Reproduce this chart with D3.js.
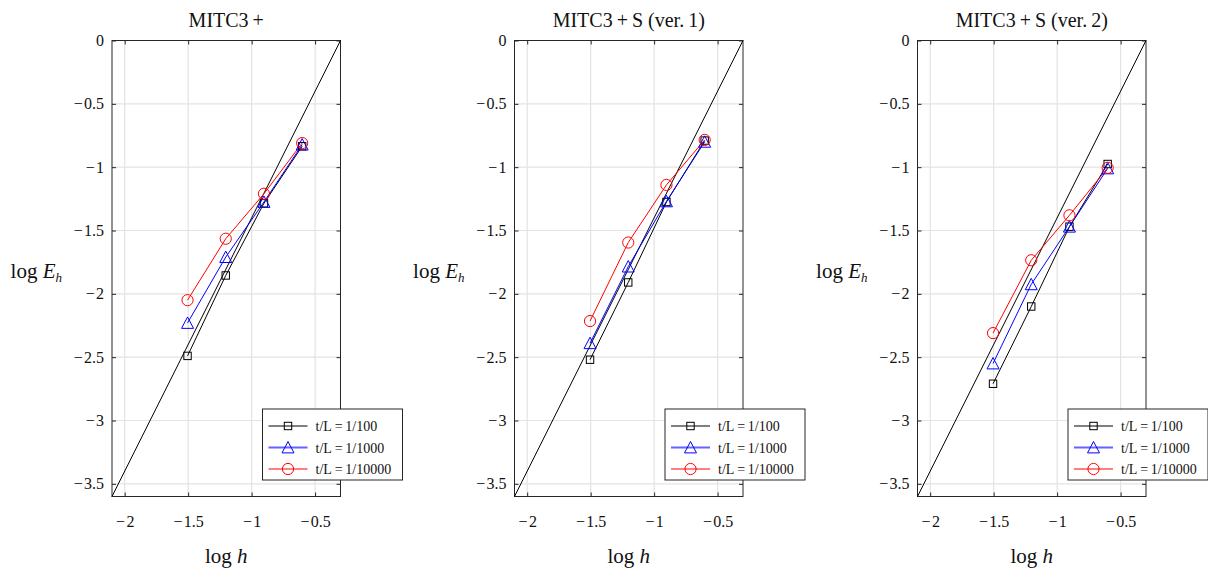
<!DOCTYPE html>
<html><head><meta charset="utf-8">
<script src="https://cdn.jsdelivr.net/npm/d3@7"></script>
<style>body{margin:0;background:#fff}svg{display:block}text{font-family:"Liberation Serif","Times New Roman",serif}</style>
</head><body><svg id="c" width="1208" height="577"></svg>
<script>
const logH = [-1.505, -1.204, -0.903, -0.602];
const titles = ["MITC3\u2009+", "MITC3\u2009+\u2009S (ver.\u20091)", "MITC3\u2009+\u2009S (ver.\u20092)"];
const seriesNames = ["t/L\u2009=\u20091/100", "t/L\u2009=\u20091/1000", "t/L\u2009=\u20091/10000"];
const p1_100 = [-2.49, -1.855, -1.285, -0.835];
const p1_1000 = [-2.23, -1.71, -1.275, -0.822];
const p1_10000 = [-2.05, -1.565, -1.21, -0.81];
const p2_100 = [-2.52, -1.91, -1.275, -0.79];
const p2_1000 = [-2.39, -1.785, -1.27, -0.80];
const p2_10000 = [-2.215, -1.595, -1.14, -0.785];
const p3_100 = [-2.71, -2.10, -1.47, -0.975];
const p3_1000 = [-2.55, -1.925, -1.47, -1.01];
const p3_10000 = [-2.31, -1.735, -1.38, -1.005];
const xTicks = [-2, -1.5, -1, -0.5];
const yTicks = [0, -0.5, -1, -1.5, -2, -2.5, -3, -3.5];
const refLineX = [-2.1, -0.3];   // slope-2 reference line
const refSlope = 2, refIntercept = 0.6;

const panels = [
  {title: titles[0], data: [p1_100, p1_1000, p1_10000], left: 112},
  {title: titles[1], data: [p2_100, p2_1000, p2_10000], left: 514.5},
  {title: titles[2], data: [p3_100, p3_1000, p3_10000], left: 917.5}
];
const colors = ["#000000", "#0000ff", "#ff0000"];
const markers = ["square", "triangle", "circle"];
const W = 228.5, T0 = 40.5, H = 456;
const svg = d3.select("#c");
const fmt = v => v === 0 ? "0" : "\u2212\u200A" + String(Math.abs(v));

function drawMarker(g, type, x, y, color) {
  if (type === "square") {
    g.append("rect").attr("x", x - 3.7).attr("y", y - 3.7).attr("width", 7.4).attr("height", 7.4)
      .attr("fill", "none").attr("stroke", color).attr("stroke-width", 1);
  } else if (type === "triangle") {
    const s = 6;
    g.append("path").attr("d", `M${x},${y - s}L${x + s},${y + s * 0.9}L${x - s},${y + s * 0.9}Z`)
      .attr("fill", "none").attr("stroke", color).attr("stroke-width", 1);
  } else {
    g.append("circle").attr("cx", x).attr("cy", y).attr("r", 5.6)
      .attr("fill", "none").attr("stroke", color).attr("stroke-width", 1);
  }
}

panels.forEach((p, pi) => {
  const x = d3.scaleLinear().domain([-2.1, -0.3]).range([p.left, p.left + W]);
  const y = d3.scaleLinear().domain([-3.6, 0]).range([T0 + H, T0]);
  const g = svg.append("g");
  // grid
  g.selectAll(".gx").data(xTicks).enter().append("line")
    .attr("x1", d => x(d)).attr("x2", d => x(d)).attr("y1", T0).attr("y2", T0 + H)
    .attr("stroke", "#e3e3e3").attr("stroke-width", 1.2);
  g.selectAll(".gy").data(yTicks).enter().append("line")
    .attr("x1", p.left).attr("x2", p.left + W).attr("y1", d => y(d)).attr("y2", d => y(d))
    .attr("stroke", "#e3e3e3").attr("stroke-width", 1.2);
  // axes with inward ticks
  const ax = d3.axisBottom(x).tickValues(xTicks).tickFormat(fmt).tickSizeInner(-4).tickSizeOuter(0).tickPadding(19);
  const axT = d3.axisTop(x).tickValues(xTicks).tickFormat("").tickSizeInner(-4).tickSizeOuter(0);
  const ay = d3.axisLeft(y).tickValues(yTicks).tickFormat(fmt).tickSizeInner(-4).tickSizeOuter(0).tickPadding(8);
  const ayR = d3.axisRight(y).tickValues(yTicks).tickFormat("").tickSizeInner(-4).tickSizeOuter(0);
  const styleAxis = sel => {
    sel.attr("font-family", null).attr("font-size", null);
    sel.select(".domain").remove();
    sel.selectAll(".tick line").attr("stroke", "#262626");
    sel.selectAll(".tick text").attr("fill", "#111").style("font-size", "16px")
      .style("font-family", '"Liberation Serif","Times New Roman",serif');
  };
  g.append("g").attr("transform", `translate(0,${T0 + H})`).call(ax).call(styleAxis);
  g.append("g").attr("transform", `translate(0,${T0})`).call(axT).call(styleAxis);
  g.append("g").attr("transform", `translate(${p.left},0)`).call(ay).call(styleAxis);
  g.append("g").attr("transform", `translate(${p.left + W},0)`).call(ayR).call(styleAxis);
  g.append("rect").attr("x", p.left).attr("y", T0).attr("width", W).attr("height", H)
    .attr("fill", "none").attr("stroke", "#262626").attr("stroke-width", 1);
  // reference line
  const line = d3.line().x(d => x(d[0])).y(d => y(d[1]));
  g.append("path").datum(refLineX.map(v => [v, refSlope * v + refIntercept]))
    .attr("d", line).attr("fill", "none").attr("stroke", "#000").attr("stroke-width", 1);
  // series
  p.data.forEach((vals, si) => {
    const pts = logH.map((h, i) => [h, vals[i]]);
    g.append("path").datum(pts).attr("d", line).attr("fill", "none")
      .attr("stroke", colors[si]).attr("stroke-width", 1);
  });
  p.data.forEach((vals, si) => {
    logH.forEach((h, i) => drawMarker(g, markers[si], x(h), y(vals[i]), colors[si]));
  });
  // title
  g.append("text").attr("x", p.left + W / 2).attr("y", 27).attr("text-anchor", "middle")
    .style("font-size", "20px").attr("fill", "#111").text(p.title);
  // axis labels
  const yl = g.append("text").attr("x", p.left - 50).attr("y", 278).attr("text-anchor", "end")
    .style("font-size", "21px").attr("fill", "#111");
  yl.append("tspan").text("log ");
  yl.append("tspan").style("font-style", "italic").text("E");
  yl.append("tspan").style("font-style", "italic").style("font-size", "13px").attr("dy", 4).text("h");
  const xl = g.append("text").attr("x", p.left + W / 2).attr("y", 563).attr("text-anchor", "middle")
    .style("font-size", "21px").attr("fill", "#111");
  xl.append("tspan").text("log ");
  xl.append("tspan").style("font-style", "italic").text("h");
  // legend
  const lx = p.left + W - 78, ly = 409;
  const lg = svg.append("g");
  lg.append("rect").attr("x", lx).attr("y", ly).attr("width", 140).attr("height", 71)
    .attr("fill", "#fff").attr("stroke", "#262626").attr("stroke-width", 1);
  seriesNames.forEach((name, si) => {
    const ry = ly + 17 + si * 21.5;
    lg.append("line").attr("x1", lx + 6).attr("x2", lx + 45).attr("y1", ry).attr("y2", ry)
      .attr("stroke", si === 1 ? "#6464ff" : colors[si]).attr("stroke-width", si === 1 ? 2.2 : 1);
    drawMarker(lg, markers[si], lx + 25.5, ry, colors[si]);
    lg.append("text").attr("x", lx + 53).attr("y", ry + 5).style("font-size", "14px")
      .attr("fill", "#111").text(name);
  });
});
</script></body></html>
